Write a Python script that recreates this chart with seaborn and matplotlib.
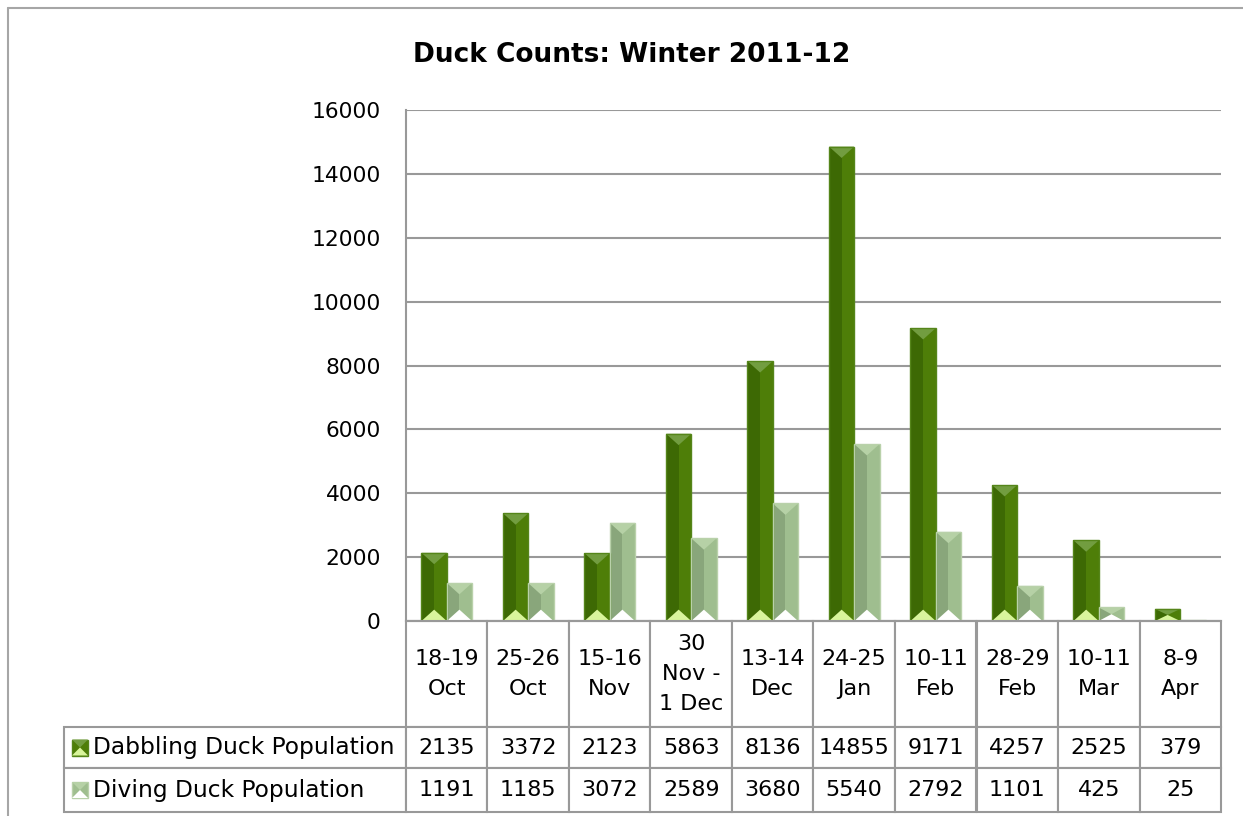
import numpy as np
import pandas as pd
import seaborn as sns
import matplotlib.pyplot as plt
from matplotlib.patches import Rectangle, Polygon
from matplotlib.lines import Line2D

# ---- data ----
dates = ['18-19\nOct', '25-26\nOct', '15-16\nNov', '30\nNov -\n1 Dec', '13-14\nDec',
         '24-25\nJan', '10-11\nFeb', '28-29\nFeb', '10-11\nMar', '8-9\nApr']
dabbling = [2135, 3372, 2123, 5863, 8136, 14855, 9171, 4257, 2525, 379]
diving = [1191, 1185, 3072, 2589, 3680, 5540, 2792, 1101, 425, 25]
series = ['Dabbling Duck Population', 'Diving Duck Population']
yticks = [0, 2000, 4000, 6000, 8000, 10000, 12000, 14000, 16000]

# left face, right face, top bevel, bottom bevel, edge
shades = {
    series[0]: ('#3d6904', '#4e7e08', '#729d40', '#d9f59c', '#55851a'),
    series[1]: ('#89a67b', '#9fbe8f', '#b6d1a6', '#ffffff', '#b9d1aa'),
}

df = pd.DataFrame({
    'date': dates * 2,
    'count': dabbling + diving,
    'series': [series[0]] * len(dates) + [series[1]] * len(dates),
})

sns.set_theme(style='white')
plt.rcParams['font.family'] = ['DejaVu Sans']
plt.rcParams['text.color'] = 'black'

W, H = 1243, 816
fig = plt.figure(figsize=(W / 100, H / 100), dpi=100)
ax_l, ax_r, ax_t, ax_b = 406, 1221, 110, 621
ax = fig.add_axes([ax_l / W, 1 - ax_b / H, (ax_r - ax_l) / W, (ax_b - ax_t) / H])

sns.barplot(data=df, x='date', y='count', hue='series',
            palette=[shades[s][1] for s in series], width=0.62,
            saturation=1, legend=False, ax=ax)

ax.set_ylim(0, 16000)
ax.set_xlim(-0.5, len(dates) - 0.5)
ax.set_yticks(yticks)
ax.yaxis.grid(True, color='#999999', lw=1.5)
ax.set_axisbelow(True)
ax.set_xlabel('')
ax.set_ylabel('')
for s in ['top', 'right']:
    ax.spines[s].set_visible(False)
for s in ['left', 'bottom']:
    ax.spines[s].set_color('#999999')
    ax.spines[s].set_linewidth(1.5)
ax.tick_params(axis='y', length=0, pad=18, labelsize=15.7, labelcolor='black')
ax.tick_params(axis='x', length=0, labelbottom=False)

# ---- bevelled bars ----
px_x = (ax_r - ax_l) / len(dates)      # pixels per category
px_y = (ax_b - ax_t) / 16000           # pixels per count
bars = list(ax.patches)
n = len(dates)
for i, p in enumerate(bars):
    left, right, top_c, bot_c, edge = shades[series[i // n]]
    x0, w, h = p.get_x(), p.get_width(), p.get_height()
    p.set_facecolor(right)
    p.set_edgecolor('none')
    ax.add_patch(Rectangle((x0, 0), w / 2, h, facecolor=left, edgecolor='none', zorder=p.get_zorder() + 0.1))
    t = min(0.45 * w * px_x / px_y, h / 2)
    ax.add_patch(Polygon([(x0, h), (x0 + w, h), (x0 + w / 2, h - t)], closed=True,
                         facecolor=top_c, edgecolor='none', zorder=p.get_zorder() + 0.2))
    ax.add_patch(Polygon([(x0, 0), (x0 + w, 0), (x0 + w / 2, t)], closed=True,
                         facecolor=bot_c, edgecolor='none', zorder=p.get_zorder() + 0.2))
    ax.add_patch(Rectangle((x0, 0), w, h, facecolor='none', edgecolor=edge, lw=1,
                           zorder=p.get_zorder() + 0.3))

# ---- data table ----
tbl_left = 64
label_w = (ax_l - tbl_left) / (ax_r - ax_l)
row_px = [106, 41, 44]
tbl_h = sum(row_px) / (ax_b - ax_t)
cell_text = [[''] + dates,
             [series[0]] + [str(v) for v in dabbling],
             [series[1]] + [str(v) for v in diving]]
tbl = ax.table(cellText=cell_text, cellLoc='center',
               colWidths=[label_w] + [1 / n] * n,
               bbox=[-label_w, -tbl_h, 1 + label_w, tbl_h])
tbl.auto_set_font_size(False)
tbl.set_fontsize(16)
for (r, c), cell in tbl.get_celld().items():
    cell.set_height(row_px[r] / (ax_b - ax_t))
    cell.set_edgecolor('#999999')
    cell.set_linewidth(1.5)
    txt = cell.get_text()
    txt.set_color('black')
    if r == 0:
        txt.set_multialignment('center')
        txt.set_linespacing(1.65)
    if c == 0:
        if r == 0:
            cell.visible_edges = 'open'
        else:
            txt.set_ha('left')
            txt.set_fontsize(16.8)
            cell.PAD = 0.085

# legend keys in the table row labels
key = 16
ax_h_px = ax_b - ax_t
ax_w_px = ax_r - ax_l
y_cursor = ax_b + row_px[0]
for r, s in enumerate(series):
    left, right, top_c, bot_c, edge = shades[s]
    cy = y_cursor + row_px[r + 1] / 2
    y_cursor += row_px[r + 1]
    kx = (72 - ax_l) / ax_w_px
    ky = (ax_b - cy - key / 2) / ax_h_px
    kw, kh = key / ax_w_px, key / ax_h_px
    ax.add_patch(Rectangle((kx, ky), kw, kh, transform=ax.transAxes, clip_on=False,
                           facecolor=right, edgecolor=edge, lw=1))
    ax.add_patch(Polygon([(kx, ky + kh), (kx + kw, ky + kh), (kx + kw / 2, ky + kh / 2)],
                         transform=ax.transAxes, clip_on=False, facecolor=top_c, edgecolor='none'))
    ax.add_patch(Polygon([(kx, ky), (kx + kw, ky), (kx + kw / 2, ky + kh / 2)],
                         transform=ax.transAxes, clip_on=False, facecolor=bot_c, edgecolor='none'))

# chart frame and title
fig.add_artist(Line2D([8 / W, 1], [1 - 8 / H] * 2, transform=fig.transFigure, color='#a6a6a6', lw=1.5))
fig.add_artist(Line2D([8 / W] * 2, [0, 1 - 8 / H], transform=fig.transFigure, color='#a6a6a6', lw=1.5))
fig.text(632 / W, 1 - 55 / H, 'Duck Counts: Winter 2011-12', ha='center', va='center',
         fontsize=19, fontweight='bold', color='black')

fig.savefig('out.png', dpi=100)
